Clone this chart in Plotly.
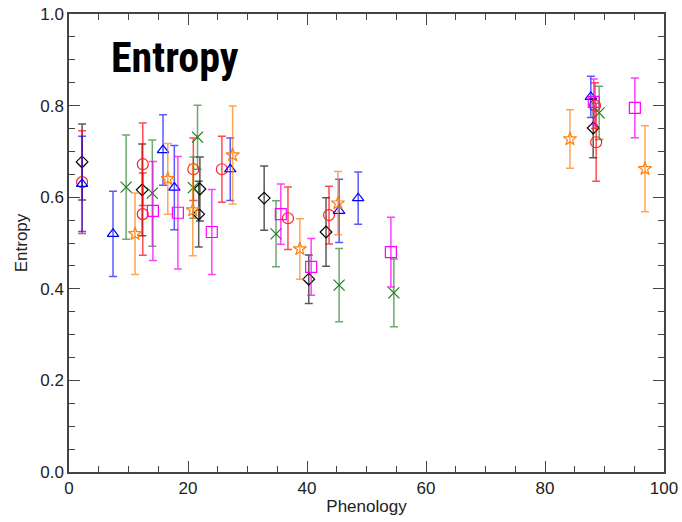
import plotly.graph_objects as go

# ---- data ----
black_x = [2.2, 12.3, 22.0, 21.8, 32.8, 40.3, 43.2, 88.1]
black_y = [0.677, 0.616, 0.618, 0.563, 0.598, 0.421, 0.524, 0.751]
black_e = [0.083, 0.100, 0.070, 0.072, 0.070, 0.053, 0.075, 0.065]

red_x = [2.2, 12.4, 12.4, 20.9, 25.7, 36.8, 43.7, 88.6, 88.4]
red_y = [0.633, 0.672, 0.563, 0.661, 0.661, 0.554, 0.561, 0.720, 0.800]
red_e = [0.112, 0.090, 0.090, 0.068, 0.072, 0.068, 0.063, 0.085, 0.050]

blue_x = [2.2, 7.4, 15.8, 17.7, 27.1, 45.4, 48.6, 87.7]
blue_y = [0.629, 0.520, 0.703, 0.621, 0.661, 0.570, 0.598, 0.819]
blue_e = [0.104, 0.093, 0.077, 0.092, 0.068, 0.069, 0.057, 0.045]

green_x = [9.6, 14.0, 21.6, 20.9, 34.8, 45.4, 54.6, 89.1]
green_y = [0.622, 0.609, 0.731, 0.621, 0.520, 0.408, 0.391, 0.784]
green_e = [0.114, 0.116, 0.070, 0.067, 0.072, 0.080, 0.074, 0.058]

orange_x = [11.1, 16.6, 20.8, 27.5, 38.8, 45.2, 84.2, 96.8]
orange_y = [0.520, 0.640, 0.572, 0.692, 0.487, 0.587, 0.727, 0.662]
orange_e = [0.089, 0.077, 0.100, 0.107, 0.066, 0.069, 0.064, 0.094]

magenta_x = [14.1, 18.3, 24.0, 35.6, 40.7, 54.1, 95.1, 88.2]
magenta_y = [0.570, 0.566, 0.524, 0.563, 0.448, 0.480, 0.795, 0.808]
magenta_e = [0.108, 0.123, 0.093, 0.066, 0.062, 0.076, 0.065, 0.050]

x_ticks = [0, 20, 40, 60, 80, 100]
y_ticks = [0.0, 0.2, 0.4, 0.6, 0.8, 1.0]

series = [
    (black_x, black_y, black_e, "#000000", "rgba(0,0,0,0.65)", "diamond-open", 9),
    (red_x, red_y, red_e, "#ff2020", "rgba(255,0,0,0.7)", "circle-open", 11),
    (blue_x, blue_y, blue_e, "#0000ff", "rgba(0,0,255,0.65)", "triangle-up-open", 10),
    (green_x, green_y, green_e, "#1e7b1e", "rgba(30,123,30,0.65)", "x-thin-open", 11),
    (orange_x, orange_y, orange_e, "#ff7f0e", "rgba(255,127,14,0.7)", "star-open", 10),
    (magenta_x, magenta_y, magenta_e, "#ff00ff", "rgba(255,0,255,0.75)", "square-open", 11),
]

fig = go.Figure()
for xs, ys, es, col, ecol, sym, sz in series:
    fig.add_trace(go.Scatter(
        x=xs, y=ys, mode="markers",
        marker=dict(symbol=sym, size=sz, color=col, line=dict(width=1.2, color=col)),
        error_y=dict(type="data", array=es, visible=True, color=ecol,
                     thickness=1.5, width=4),
        showlegend=False,
    ))

FONT = "Liberation Sans, Arial, sans-serif"
axis_common = dict(
    showline=True, linecolor="#444444", linewidth=1.5, mirror="ticks",
    ticks="inside", ticklen=11, tickwidth=1.2, tickcolor="#444444",
    showgrid=False, zeroline=False, automargin=False,
    tickfont=dict(family=FONT, size=17, color="#222222"),
)

fig.update_xaxes(
    range=[0, 100], tickvals=x_ticks, ticktext=[str(v) for v in x_ticks],
    minor=dict(ticks="inside", ticklen=6, dtick=5, tickcolor="#444444", tickwidth=1),
    title=dict(text="Phenology", font=dict(family=FONT, size=17, color="#222222"), standoff=3),
    **axis_common,
)
fig.update_yaxes(
    range=[0, 1], tickvals=y_ticks, ticktext=[f"{v:.1f}" for v in y_ticks],
    minor=dict(ticks="inside", ticklen=6, dtick=0.05, tickcolor="#444444", tickwidth=1),
    title=dict(text="Entropy", font=dict(family=FONT, size=17, color="#222222"), standoff=8),
    **axis_common,
)

fig.add_annotation(
    text="<b>Entropy</b>", xref="paper", yref="paper", x=0.068, y=0.906,
    xanchor="left", yanchor="middle", showarrow=False,
    font=dict(family="Liberation Sans Narrow, Roboto Condensed, Roboto, sans-serif", size=42, color="#000000"),
)

fig.update_layout(
    width=682, height=522,
    margin=dict(l=69, r=18, t=14, b=50),
    paper_bgcolor="white", plot_bgcolor="white",
)

fig.write_html("out.html")
